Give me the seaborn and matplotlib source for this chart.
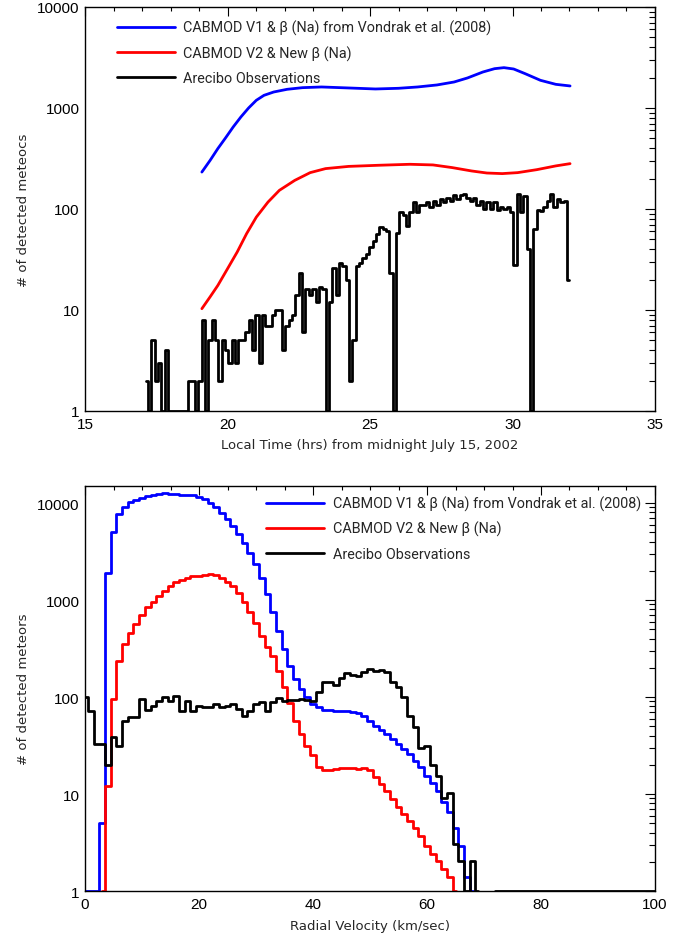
import numpy as np
import matplotlib
matplotlib.use("Agg")
import matplotlib.pyplot as plt
import seaborn as sns
from matplotlib.ticker import MultipleLocator, LogLocator, FuncFormatter, NullFormatter

# ---------------- upper panel: detections vs. local time ----------------
v1_time = [19.10, 19.39, 19.66, 19.93, 20.20, 20.47, 20.74, 21.01, 21.28, 21.62,
           22.09, 22.63, 23.30, 24.25, 25.19, 26.00, 26.67, 27.35, 27.95, 28.42,
           28.96, 29.37, 29.70, 30.04, 30.44, 30.98, 31.52, 32.02]
v1_time_counts = [232, 303, 396, 505, 649, 815, 1000, 1191, 1334, 1439,
                  1530, 1589, 1614, 1578, 1542, 1566, 1614, 1690, 1808, 1982,
                  2270, 2449, 2507, 2432, 2188, 1879, 1714, 1652]

v2_time = [19.10, 19.39, 19.66, 20.00, 20.34, 20.67, 21.01, 21.42, 21.82, 22.36,
           22.90, 23.44, 24.25, 25.32, 26.40, 27.21, 27.88, 28.56, 29.10, 29.64,
           30.18, 30.85, 31.52, 32.02]
v2_time_counts = [10.3, 13.5, 17.5, 25.6, 37.5, 57, 83, 117, 153, 192,
                  229, 251, 264, 271, 277, 273, 257, 238, 227, 224,
                  229, 245, 267, 281]

# Arecibo counts in 7-minute bins (bin centres start at 17.15 h)
obs_time_first = 17.15
obs_time_bin = 0.1176
obs_time_counts = [2, 1, 5, 2, 3, 1, 4, 1, 1, 1, 1, 1, 1, 2, 2, 1, 2, 8, 1, 5,
                   8, 5, 2, 5, 4, 3, 5, 3, 5, 5, 6, 8, 4, 9, 3, 9, 7, 7, 9, 10,
                   10, 4, 7, 8, 9, 14, 23, 6, 16, 14, 16, 12, 17, 16, 1, 12, 26, 14, 29, 27,
                   20, 2, 5, 27, 29, 33, 36, 42, 48, 57, 66, 63, 61, 23, 1, 58, 93, 87, 68, 93,
                   116, 93, 110, 110, 118, 105, 120, 110, 125, 116, 127, 120, 137, 125, 137, 140, 128, 120, 128, 110,
                   120, 100, 116, 100, 118, 98, 105, 100, 105, 93, 28, 140, 93, 135, 40, 1, 63, 98, 95, 105,
                   120, 140, 105, 125, 116, 120, 20]

# ---------------- lower panel: detections vs. radial velocity ----------------
# 1 km/s bins, centres at whole km/s
v1_vel_counts = [1, 1, 1, 5, 1880, 5000, 7700, 9000, 10150, 10700,
                 11200, 11700, 12200, 12500, 12600, 12500, 12300, 12200, 12100, 12000,
                 11600, 10900, 10000, 9000, 7900, 6800, 5800, 4800, 3900, 3050,
                 2350, 1680, 1150, 760, 480, 315, 210, 155, 120, 99,
                 85, 78, 74, 73, 72, 72, 71, 70, 68, 63,
                 57, 50, 46, 41.6, 37, 33, 29, 26, 22, 19,
                 15.5, 13, 10.8, 8.2, 6.5, 4.5, 2.9, 1.4, 1]

v2_vel_first = 3
v2_vel_counts = [1, 12.2, 95, 237, 352, 457, 566, 700, 841, 947,
                 1108, 1246, 1384, 1522, 1620, 1698, 1755, 1780, 1820, 1850,
                 1800, 1700, 1550, 1380, 1180, 960, 760, 580, 430, 330,
                 265, 187, 126, 86, 57, 42, 31.5, 25, 19, 17.7,
                 17.5, 18, 18.4, 18.4, 18.6, 18.2, 18.4, 17.5, 15, 12.7,
                 10.8, 8.9, 7.3, 6.2, 5.3, 4.5, 3.7, 2.9, 2.4, 2.05,
                 1.7, 1.4, 1]

# NaN marks velocity bins with no recorded value
obs_vel_counts = [100, 72, 33, 33, 20, 39, 31, 57, 62, 62,
                  95, 74, 81, 91, 100, 91, 103, 72, 91, 72,
                  81, 79, 79, 85, 79, 81, 85, 75, 64, 72,
                  85, 88, 72, 88, 97, 91, 93, 93, 95, 93,
                  91, 112, 144, 144, 133, 156, 175, 169, 163, 182,
                  194, 187, 191, 182, 142, 126, 99, 64, 49, 30,
                  31, 20, 15.5, 9.2, 10.2, 3.05, 2.05, 1, 2.05, 1,
                  np.nan, np.nan, 1, 1, 1, 1, 1, 1, 1, 1,
                  1, 1, 1, 1, 1, 1, 1, 1, 1, 1,
                  1, 1, 1, 1, 1, 1, 1, 1, 1, 1, 1]

series_labels = ["CABMOD V1 & \u03b2 (Na) from Vondrak et al. (2008)",
                 "CABMOD V2 & New \u03b2 (Na)",
                 "Arecibo Observations"]
series_colors = ["#0000ff", "#ff0000", "#000000"]

sns.set_style("white")
plt.rcParams["font.family"] = ["Liberation Sans", "DejaVu Sans"]

fig = plt.figure(figsize=(6.94, 9.37), dpi=100)
ax_time = fig.add_axes([0.1225, 0.5603, 0.8213, 0.4312])
ax_vel = fig.add_axes([0.1225, 0.0480, 0.8213, 0.4323])

LW = 2.0

# upper panel
sns.lineplot(x=v1_time, y=v1_time_counts, ax=ax_time, color=series_colors[0], lw=LW,
             label=series_labels[0], estimator=None, sort=False)
sns.lineplot(x=v2_time, y=v2_time_counts, ax=ax_time, color=series_colors[1], lw=LW,
             label=series_labels[1], estimator=None, sort=False)
obs_time = obs_time_first + obs_time_bin * np.arange(len(obs_time_counts))
sns.lineplot(x=obs_time, y=obs_time_counts, ax=ax_time, color=series_colors[2], lw=LW,
             label=series_labels[2], estimator=None, sort=False, drawstyle="steps-mid")

# lower panel
sns.lineplot(x=np.arange(len(v1_vel_counts)), y=v1_vel_counts, ax=ax_vel, color=series_colors[0],
             lw=LW, label=series_labels[0], estimator=None, sort=False, drawstyle="steps-mid")
sns.lineplot(x=v2_vel_first + np.arange(len(v2_vel_counts)), y=v2_vel_counts, ax=ax_vel,
             color=series_colors[1], lw=LW, label=series_labels[1], estimator=None, sort=False,
             drawstyle="steps-mid")
obs_vel = np.asarray(obs_vel_counts, dtype=float)
obs_segment = np.cumsum(np.isnan(obs_vel))  # separate runs either side of the empty bins
sns.lineplot(x=np.arange(len(obs_vel)), y=obs_vel, units=obs_segment, ax=ax_vel,
             color=series_colors[2], lw=LW, label=series_labels[2], estimator=None,
             sort=False, drawstyle="steps-mid")


def style_axes(ax, xlim, ylim, xmajor, xminor, xlabel, ylabel):
    ax.set_yscale("log")
    ax.set_xlim(*xlim)
    ax.set_ylim(*ylim)
    ax.xaxis.set_major_locator(MultipleLocator(xmajor))
    ax.xaxis.set_minor_locator(MultipleLocator(xminor))
    ax.yaxis.set_major_locator(LogLocator(base=10, numticks=10))
    ax.yaxis.set_minor_locator(LogLocator(base=10, subs=np.arange(2, 10), numticks=40))
    ax.yaxis.set_major_formatter(FuncFormatter(lambda v, p: f"{v:g}"))
    ax.yaxis.set_minor_formatter(NullFormatter())
    ax.tick_params(which="both", direction="in", top=True, right=True, width=0.8,
                   color="black", labelcolor="black", labelsize=11)
    ax.tick_params(axis="x", which="major", length=6.5, pad=4)
    ax.tick_params(axis="x", which="minor", length=3)
    ax.tick_params(axis="y", which="major", length=7.5, pad=4)
    ax.tick_params(axis="y", which="minor", length=4)
    for sp in ax.spines.values():
        sp.set_visible(True)
        sp.set_linewidth(1.0)
        sp.set_color("black")
    ax.set_xlabel(xlabel, family="DejaVu Sans", fontsize=9.5)
    ax.set_ylabel(ylabel, family="DejaVu Sans", fontsize=9.5)
    ax.xaxis.set_label_coords(0.5, -0.068)
    ax.yaxis.set_label_coords(-0.096, 0.5)


style_axes(ax_time, (15, 35), (1, 10000), 5, 1,
           "Local Time (hrs) from midnight July 15, 2002", "# of detected meteocs")
style_axes(ax_vel, (0, 100), (1, 15000), 20, 5,
           "Radial Velocity (km/sec)", "# of detected meteors")

legend_kw = dict(loc="upper left", frameon=False, borderpad=0, borderaxespad=0,
                 handlelength=4.0, handletextpad=0.6, labelspacing=0.7,
                 prop={"family": "Roboto", "size": 10.4})


def add_legend(ax, anchor):
    handles, labels = ax.get_legend_handles_labels()
    unique = {}
    for h, l in zip(handles, labels):
        unique.setdefault(l, h)
    ax.legend(list(unique.values()), list(unique.keys()), bbox_to_anchor=anchor, **legend_kw)


add_legend(ax_time, (0.056, 0.968))
add_legend(ax_vel, (0.318, 0.976))

fig.savefig("out.png", dpi=100, facecolor="white")
